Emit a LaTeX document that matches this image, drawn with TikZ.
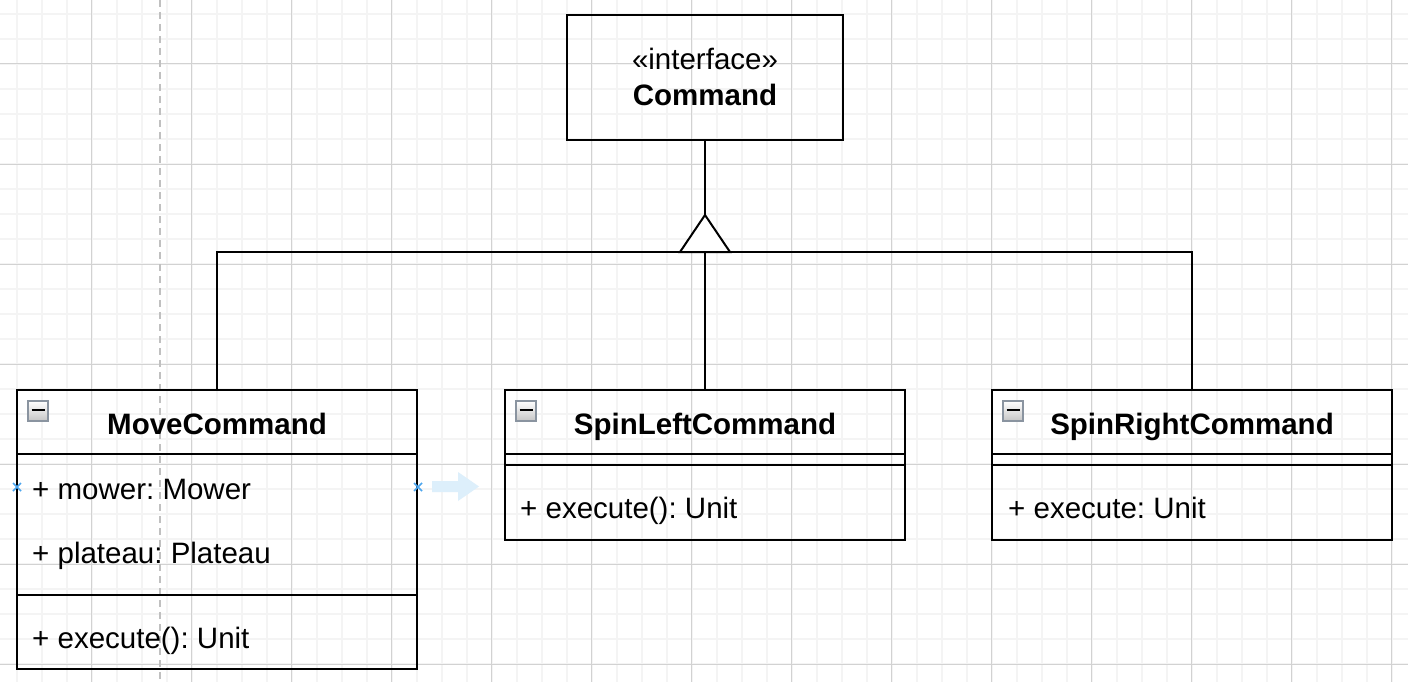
\documentclass[tikz,border=0pt]{standalone}
\usepackage{fontspec}
\setmainfont{Liberation Sans}
\usetikzlibrary{calc}
\frenchspacing
\definecolor{minorc}{HTML}{F4F4F4}
\definecolor{majorc}{HTML}{D2D2D2}
\definecolor{guidec}{HTML}{C0C0C0}
\definecolor{selblue}{HTML}{4DA6EE}
\definecolor{ghostblue}{HTML}{DDEFFB}
\definecolor{iconedge}{HTML}{8A94A0}
\tikzset{
  minorgrid/.style={draw=minorc, line width=2pt},
  majorgrid/.style={draw=majorc, line width=1pt},
  classbox/.style={draw=black, line width=2.4pt, rectangle, inner sep=0pt, minimum width=400pt, minimum height=150pt},
  sepline/.style={draw=black, line width=2.4pt},
  conn/.style={draw=black, line width=2pt},
  titletxt/.style={anchor=base, inner sep=0pt, font=\fontsize{29.5}{34}\selectfont\bfseries},
  stereotxt/.style={anchor=base, inner sep=0pt, font=\fontsize{29.5}{34}\selectfont},
  membertxt/.style={anchor=base west, inner sep=0pt, font=\fontsize{29.5}{34}\selectfont},
  minusicon/.style={rectangle, draw=iconedge, line width=1.5pt, top color=white, bottom color=gray!45, minimum size=20pt, inner sep=0pt},
  selmark/.style={draw=selblue, line width=1.6pt},
}
\begin{document}
\begin{tikzpicture}[x=1pt,y=-1pt]
\useasboundingbox (0,0) rectangle (1408,682);
\fill[white] (0,0) rectangle (1408,682);
% grid
\foreach \i in {0,...,56} \draw[minorgrid] ({16.7+25*\i},0) -- ({16.7+25*\i},682);
\foreach \j in {0,...,27} \draw[minorgrid] (0,{14+25*\j}) -- (1408,{14+25*\j});
\foreach \i in {0,...,13} \draw[majorgrid] ({91.7+100*\i},0) -- ({91.7+100*\i},682);
\foreach \j in {0,...,6} \draw[majorgrid] (0,{64+100*\j}) -- (1408,{64+100*\j});
% guide
\draw[draw=guidec, line width=2pt, dash pattern=on 7pt off 5pt] (160,0) -- (160,682);

% interface box
\node[classbox, minimum width=276pt, minimum height=125pt] (cmd) at (705,77.5) {};
\node[stereotxt] (cmdst) at (705,70) {«interface»};
\node[titletxt] (cmdname) at (705,106) {Command};

% class boxes
\node[classbox, minimum height=279pt] (move) at (217,529.5) {};
\node[classbox] (spinl) at (705,465) {};
\node[classbox] (spinr) at (1192,465) {};

% separators
\draw[sepline] (17,454) -- (417,454);
\draw[sepline] (17,595) -- (417,595);
\draw[sepline] (505,454) -- (905,454);
\draw[sepline] (505,465) -- (905,465);
\draw[sepline] (992,454) -- (1392,454);
\draw[sepline] (992,465) -- (1392,465);

% titles
\node[titletxt] (movet) at (217,434) {MoveCommand};
\node[titletxt] (spinlt) at (705,434) {SpinLeftCommand};
\node[titletxt] (spinrt) at (1192,434) {SpinRightCommand};

% members
\node[membertxt] (m1) at (32,499) {+ mower: Mower};
\node[membertxt] (m2) at (32,563) {+ plateau: Plateau};
\node[membertxt] (m3) at (32,648) {+ execute(): Unit};
\node[membertxt] (l1) at (520,518) {+ execute(): Unit};
\node[membertxt] (r1) at (1008,518) {+ execute: Unit};

% icons
\node[minusicon] (ic1) at (38,411) {};
\node[minusicon] (ic2) at (526,411) {};
\node[minusicon] (ic3) at (1013,411) {};
\foreach \n in {ic1,ic2,ic3} \draw[black, line width=2.4pt] (\n.center) ++(-6.5,-1) -- ++(13,0);

% inheritance
\coordinate (apex) at (705,215);
\coordinate (join) at (705,252);
\coordinate (bl) at (680,252);
\coordinate (br) at (730,252);
\draw[conn] (move.north) |- (join);
\draw[conn] (spinr.north) |- (join);
\draw[conn] (spinl.north) -- (join);
\draw[conn] (cmd.south) -- (apex);
\draw[conn, fill=white, line join=miter] (apex) -- (br) -- (bl) -- cycle;

% selection markers
\coordinate (sx1) at (17,487);
\coordinate (sx2) at (418,487);
\foreach \p in {sx1,sx2} {
  \draw[selmark] (\p) ++(-4,-4) -- ++(8,8);
  \draw[selmark] (\p) ++(-4,4) -- ++(8,-8);
}
\fill[ghostblue] (432,481) -- (458,481) -- (458,472) -- (479,486.5) -- (458,501) -- (458,492) -- (432,492) -- cycle;
\end{tikzpicture}
\end{document}
